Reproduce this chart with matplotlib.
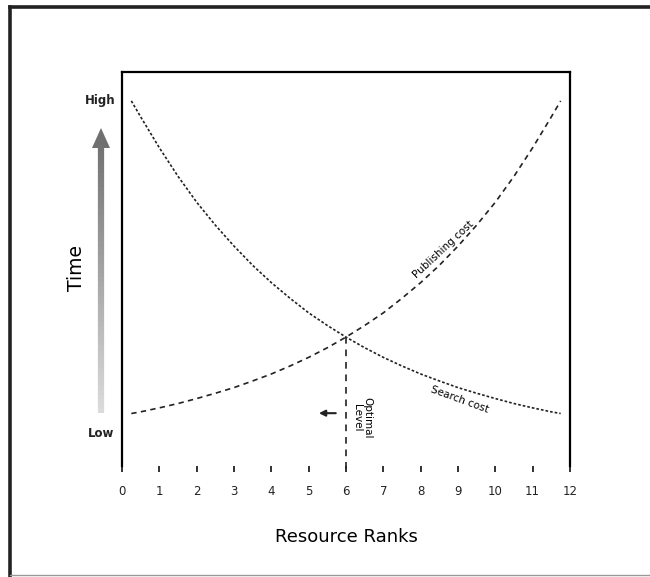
import numpy as np
import matplotlib
matplotlib.use("Agg")
from matplotlib import pyplot as plt
from matplotlib.lines import Line2D
from matplotlib.collections import LineCollection
from matplotlib.patches import Polygon

W, H = 650, 577

# resource ranks sampled along both curves
ranks = [0.25, 0.5, 1, 1.5, 2, 2.5, 3, 3.5, 4, 4.5, 5, 5.5, 6,
         6.5, 7, 7.5, 8, 8.5, 9, 9.5, 10, 10.5, 11, 11.5, 11.75]
search_cost = [10.0, 9.52, 8.59, 7.73, 6.95, 6.26, 5.63, 5.05, 4.53, 4.06, 3.62, 3.24, 2.89,
               2.57, 2.28, 2.02, 1.78, 1.57, 1.37, 1.20, 1.04, 0.89, 0.76, 0.64, 0.59]
publishing_cost = [0.59, 0.64, 0.76, 0.89, 1.04, 1.20, 1.37, 1.57, 1.78, 2.02, 2.28, 2.57, 2.89,
                   3.24, 3.62, 4.06, 4.53, 5.05, 5.63, 6.26, 6.95, 7.73, 8.59, 9.52, 10.0]
x_ticks = list(range(0, 13))
optimal_rank = 6
optimal_time = 2.89
time_high, time_low = 10.0, 0.0


def px(x, y):
    # pixel position -> figure fraction
    return x / W, 1 - y / H


fig = plt.figure(figsize=(W / 100, H / 100), dpi=100)
fig.patch.set_facecolor("white")

l, b = px(122, 466)
r, t = px(570, 72)
ax = fig.add_axes([l, b, r - l, t - b])
ax.set_xlim(0, 12)
ax.set_ylim(-0.99, 10.87)

for s in ["left", "right", "top"]:
    ax.spines[s].set_linewidth(1.6)
ax.spines["bottom"].set_visible(False)

ax.set_xticks(x_ticks)
ax.set_xticklabels([str(v) for v in x_ticks], fontsize=8.5)
ax.tick_params(axis="x", direction="out", length=4.5, width=1.3, pad=9, colors="#222222")
ax.set_yticks([])

ax.plot(ranks, search_cost, color="#222222", lw=1.2, dashes=(1.6, 1.2))
ax.plot(ranks, publishing_cost, color="#222222", lw=1.2, dashes=(3.2, 2.6))
ax.plot([optimal_rank, optimal_rank], [optimal_time, -1.2], color="#222222",
        lw=1.2, dashes=(4, 3.5), clip_on=False)

ax.text(8.60, 5.54, "Publishing cost", rotation=43, fontsize=7.5,
        ha="center", va="center", rotation_mode="anchor")
ax.text(9.05, 1.02, "Search cost", rotation=-20, fontsize=7.5,
        ha="center", va="center", rotation_mode="anchor")
ax.text(6.43, 0.45, "Optimal\nLevel", rotation=-90, fontsize=7.5,
        ha="center", va="center", linespacing=1.0)
ax.annotate("", xy=(5.2, 0.6), xytext=(5.8, 0.6),
            arrowprops=dict(arrowstyle="-|>", color="#222222", lw=1.5,
                            mutation_scale=9))

ax.text(-0.17, time_high, "High", ha="right", va="center", fontsize=8.5,
        fontweight="bold", color="#222222")
ax.text(-0.2, time_low, "Low", ha="right", va="center", fontsize=8.5,
        fontweight="bold", color="#222222")

ax.set_xlabel("Resource Ranks", fontsize=13, labelpad=22)

fig.text(*px(76, 268), "Time", rotation=90, ha="center", va="center", fontsize=13.5)

# gray gradient arrow next to the time axis
ys = np.linspace(413, 146, 60)
pts = np.array([px(101, y) for y in ys])
segs = np.stack([pts[:-1], pts[1:]], axis=1)
shades = np.linspace(0.86, 0.45, len(segs))
fig.add_artist(LineCollection(segs, colors=[(c, c, c) for c in shades], linewidths=4.5,
                              transform=fig.transFigure))
fig.add_artist(Polygon([px(92, 148), px(110, 148), px(101, 128)], closed=True,
                       facecolor="#707070", edgecolor="none", transform=fig.transFigure))

# outer frame
fig.add_artist(Line2D([px(10, 0)[0], 1], [px(0, 7)[1]] * 2, color="#222222", lw=2.6,
                      transform=fig.transFigure))
fig.add_artist(Line2D([px(10, 0)[0]] * 2, [px(0, 7)[1], 0], color="#222222", lw=2.6,
                      transform=fig.transFigure))
fig.add_artist(Line2D([px(10, 0)[0], 1], [px(0, 575)[1]] * 2, color="#999999", lw=1.0,
                      transform=fig.transFigure))

fig.savefig("out.png", dpi=100)
